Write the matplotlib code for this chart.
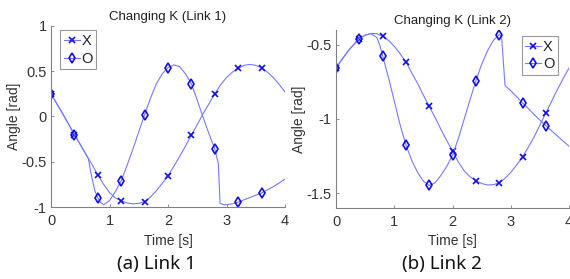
import numpy as np
import matplotlib
matplotlib.use("Agg")
import matplotlib.pyplot as plt

plt.rcParams['font.family'] = ['Liberation Sans', 'DejaVu Sans']

# Link 1, serie X
t1_x = [0.0, 0.1, 0.2, 0.3, 0.4, 0.5, 0.6, 0.7, 0.8, 0.9, 1.0, 1.1, 1.2, 1.3, 1.4,
        1.5, 1.6, 1.7, 1.8, 1.9, 2.0, 2.1, 2.2, 2.3, 2.4, 2.5, 2.6, 2.7, 2.8, 2.9,
        3.0, 3.1, 3.2, 3.3, 3.4, 3.5, 3.6, 3.7, 3.8, 3.9, 4.0]
y1_x = [0.25, 0.14, 0.03, -0.085, -0.2, -0.31, -0.42, -0.53, -0.645, -0.75, -0.84,
        -0.9, -0.93, -0.955, -0.965, -0.96, -0.94, -0.89, -0.82, -0.74, -0.655,
        -0.55, -0.44, -0.325, -0.205, -0.09, 0.03, 0.14, 0.25, 0.35, 0.43, 0.49,
        0.53, 0.565, 0.575, 0.565, 0.535, 0.49, 0.43, 0.355, 0.27]

# Link 1, serie O
t1_o = [0.0, 0.1, 0.2, 0.3, 0.4, 0.5, 0.6, 0.64, 0.67, 0.7, 0.75, 0.8, 0.85, 0.9,
        1.0, 1.1, 1.2, 1.3, 1.4, 1.5, 1.6, 1.7, 1.8, 1.9, 2.0, 2.1, 2.2, 2.3, 2.4,
        2.5, 2.6, 2.7, 2.8, 2.86, 2.89, 2.95, 3.0, 3.1, 3.2, 3.3, 3.4, 3.5, 3.6,
        3.7, 3.8, 3.9, 4.0]
y1_o = [0.25, 0.14, 0.03, -0.085, -0.2, -0.31, -0.42, -0.47, -0.58, -0.68, -0.82,
        -0.9, -0.95, -0.975, -0.93, -0.83, -0.71, -0.54, -0.36, -0.17, 0.02, 0.2,
        0.36, 0.47, 0.54, 0.57, 0.55, 0.47, 0.36, 0.18, -0.01, -0.19, -0.36, -0.52,
        -0.96, -0.975, -0.975, -0.965, -0.945, -0.92, -0.895, -0.87, -0.845,
        -0.81, -0.775, -0.735, -0.69]

# Link 2, serie X
t2_x = t1_x
y2_x = [-0.656, -0.6, -0.545, -0.5, -0.458, -0.435, -0.423, -0.425, -0.443, -0.47,
        -0.51, -0.56, -0.616, -0.69, -0.76, -0.84, -0.915, -0.99, -1.07, -1.145,
        -1.218, -1.29, -1.35, -1.39, -1.416, -1.435, -1.445, -1.443, -1.43, -1.4,
        -1.36, -1.31, -1.256, -1.19, -1.12, -1.04, -0.96, -0.88, -0.8, -0.725,
        -0.655]

# Link 2, serie O
t2_o = [0.0, 0.1, 0.2, 0.3, 0.4, 0.5, 0.6, 0.7, 0.75, 0.8, 0.9, 1.0, 1.1, 1.2,
        1.3, 1.4, 1.5, 1.6, 1.7, 1.8, 1.9, 2.0, 2.1, 2.2, 2.3, 2.4, 2.5, 2.6, 2.7,
        2.8, 2.84, 2.9, 3.0, 3.1, 3.2, 3.3, 3.4, 3.5, 3.6, 3.7, 3.8, 3.9, 4.0]
y2_o = [-0.656, -0.6, -0.545, -0.5, -0.458, -0.435, -0.425, -0.45, -0.5, -0.574,
        -0.72, -0.88, -1.04, -1.175, -1.28, -1.36, -1.42, -1.448, -1.43, -1.38,
        -1.32, -1.243, -1.13, -1.0, -0.87, -0.742, -0.63, -0.54, -0.47, -0.431,
        -0.44, -0.775, -0.81, -0.85, -0.892, -0.93, -0.97, -1.008, -1.045, -1.08,
        -1.115, -1.15, -1.184]

mark_t = [0.0, 0.4, 0.8, 1.2, 1.6, 2.0, 2.4, 2.8, 3.2, 3.6]

line_c = '#7878ff'
mark_c = '#1010e0'
grey = '#808080'


def draw(ax, series, ylim, yticks, ytl, title, loc, bbox):
    handles = []
    for t, y, m, ms, lab in series:
        idx = [i for i, v in enumerate(t) if any(abs(v - mt) < 1e-6 for mt in mark_t)]
        h, = ax.plot(t, y, color=line_c, lw=0.8, marker=m, ms=ms, mec=mark_c,
                     mfc='none', mew=1.2, markevery=idx, label=lab)
        handles.append(h)
    ax.set_xlim(0, 4)
    ax.set_ylim(*ylim)
    ax.set_xticks([0, 1, 2, 3, 4])
    ax.set_xticklabels(['0', '1', '2', '3', '4'])
    ax.set_yticks(yticks)
    ax.set_yticklabels(ytl)
    for s in ['top', 'right']:
        ax.spines[s].set_visible(False)
    for s in ['left', 'bottom']:
        ax.spines[s].set_color(grey)
        ax.spines[s].set_linewidth(0.8)
    ax.tick_params(direction='in', length=2.5, width=0.6, color=grey,
                   labelsize=10.5, labelcolor='#333333', pad=3)
    ax.tick_params(axis='x', pad=5)
    ax.set_title(title, fontsize=9.5, color='#222222', pad=4)
    ax.set_xlabel('Time [s]', fontsize=10, color='#333333', labelpad=4)
    ax.set_ylabel('Angle [rad]', fontsize=10, color='#333333', labelpad=0.5)
    leg = ax.legend(handles=handles, loc=loc, bbox_to_anchor=bbox, fontsize=10.5,
                    handlelength=1.1, handletextpad=0.1, borderpad=0.25,
                    labelspacing=0.25, borderaxespad=0.3, fancybox=False,
                    framealpha=1)
    leg.get_frame().set_edgecolor('#999999')
    leg.get_frame().set_linewidth(0.8)
    for txt in leg.get_texts():
        txt.set_color('#222222')


fig = plt.figure(figsize=(5.7, 2.79), dpi=100)
ax1 = fig.add_axes([0.0895, 0.258, 0.4105, 0.649])
ax2 = fig.add_axes([0.5895, 0.2545, 0.409, 0.638])

draw(ax1, [(t1_x, y1_x, 'x', 4, 'X'), (t1_o, y1_o, 'd', 5, 'O')],
     (-1, 1), [-1, -0.5, 0, 0.5, 1], ['-1', '-0.5', '0', '0.5', '1'],
     'Changing K (Link 1)', 'upper left', (0.02, 1.0))
draw(ax2, [(t2_x, y2_x, 'x', 4, 'X'), (t2_o, y2_o, 'd', 5, 'O')],
     (-1.6, -0.4), [-1.5, -1, -0.5], ['-1.5', '-1', '-0.5'],
     'Changing K (Link 2)', 'upper right', (0.97, 0.99))

fig.text(0.275, 0.055, '(a) Link 1', ha='center', va='center', fontsize=13.5,
         family=['Noto Sans', 'DejaVu Sans'], color='#111111')
fig.text(0.775, 0.055, '(b) Link 2', ha='center', va='center', fontsize=13.5,
         family=['Noto Sans', 'DejaVu Sans'], color='#111111')

fig.savefig('out.png', dpi=100)
